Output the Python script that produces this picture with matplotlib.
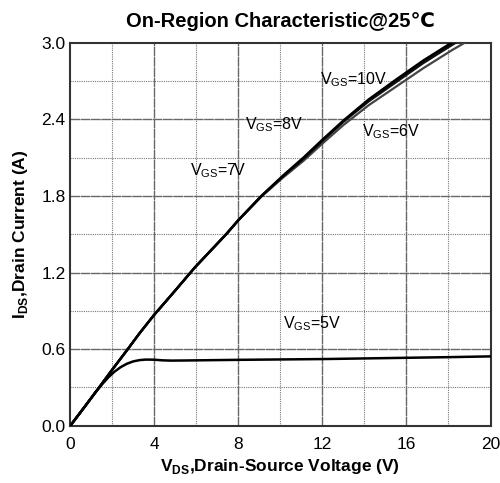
import matplotlib.pyplot as plt
import numpy as np

plt.rcParams['font.family'] = ['Liberation Sans', 'DejaVu Sans']
plt.rcParams['mathtext.fontset'] = 'custom'
plt.rcParams['mathtext.rm'] = 'Liberation Sans:bold'
plt.rcParams['mathtext.sf'] = 'Liberation Sans'

# curve data (VDS in V, IDS in A)
vds_main = [0, 0.7, 1.35, 2.0, 2.7, 3.3, 4.0, 5.0, 5.93, 7.42, 8.0, 9.1, 10.1, 11.1, 12.0, 13.0, 14.2, 15.5, 16.8, 18.2, 19.2, 20]
ids_10v = [0, 0.152, 0.295, 0.44, 0.592, 0.725, 0.87, 1.06, 1.24, 1.50, 1.61, 1.80, 1.955, 2.10, 2.24, 2.39, 2.555, 2.71, 2.86, 3.005, 3.105, 3.185]
ids_8v = [0, 0.152, 0.295, 0.44, 0.592, 0.725, 0.87, 1.06, 1.24, 1.50, 1.61, 1.80, 1.95, 2.095, 2.235, 2.385, 2.55, 2.70, 2.85, 2.995, 3.095, 3.175]
ids_7v = [0, 0.152, 0.295, 0.44, 0.592, 0.725, 0.87, 1.06, 1.24, 1.50, 1.61, 1.80, 1.95, 2.09, 2.23, 2.38, 2.54, 2.69, 2.84, 2.985, 3.085, 3.165]
ids_6v = [0, 0.152, 0.295, 0.44, 0.592, 0.725, 0.87, 1.06, 1.24, 1.50, 1.61, 1.795, 1.94, 2.075, 2.21, 2.355, 2.51, 2.655, 2.80, 2.945, 3.04, 3.12]

vds_5v = [0, 0.7, 1.2, 1.5, 1.8, 2.1, 2.4, 2.7, 3.0, 3.3, 3.6, 4.0, 4.4, 4.8, 5.5, 6.5, 8, 10, 12, 14, 16, 18, 20]
ids_5v = [0, 0.152, 0.262, 0.322, 0.377, 0.423, 0.459, 0.486, 0.504, 0.514, 0.518, 0.517, 0.512, 0.510, 0.511, 0.513, 0.516, 0.519, 0.522, 0.527, 0.532, 0.537, 0.543]

labels = ['10V', '8V', '6V', '7V', '5V']
label_pos = [(11.9, 2.71), (8.3, 2.36), (13.9, 2.30), (5.7, 2.0), (10.1, 0.8)]

x_major = np.arange(0, 21, 4)
x_minor = np.arange(2, 20, 4)
y_major = np.arange(0, 3.01, 0.6)
y_minor = np.arange(0.3, 3.0, 0.6)
y_ticklabels = ['0.0', '0.6', '1.2', '1.8', '2.4', '3.0']

fig = plt.figure(figsize=(5, 4.83), dpi=100)
ax = fig.add_axes([0.1406, 0.1186, 0.8404, 0.793])

ax.set_xlim(0, 20)
ax.set_ylim(0, 3.0)
ax.set_xticks(x_major)
ax.set_yticks(y_major)
ax.set_yticklabels(y_ticklabels)
ax.tick_params(direction='in', length=0, labelsize=12.5, labelcolor='black')
ax.tick_params(axis='x', pad=8)

# grid: (near) solid at major ticks, dotted half-way
major_style = (0, (7, 0.4))
for v in x_major[1:-1]:
    ax.axvline(v, color='#686868', linewidth=1.0, linestyle=major_style, zorder=1)
for v in x_minor:
    ax.axvline(v, color='#777777', linewidth=0.8, linestyle=(0, (1, 1)), zorder=1)
for v in y_major[1:-1]:
    ax.axhline(v, color='#686868', linewidth=1.0, linestyle=major_style, zorder=1)
for v in y_minor:
    ax.axhline(v, color='#777777', linewidth=0.8, linestyle=(0, (1, 1)), zorder=1)

for sp in ax.spines.values():
    sp.set_color('#333333')
    sp.set_linewidth(1.5)

ax.plot(vds_main, ids_6v, color='#444444', lw=1.6, zorder=3)
ax.plot(vds_main, ids_7v, color='#111111', lw=1.6, zorder=3)
ax.plot(vds_main, ids_8v, color='#111111', lw=1.6, zorder=3)
ax.plot(vds_main, ids_10v, color='#000000', lw=1.8, zorder=3)
ax.plot(vds_5v, ids_5v, color='#000000', lw=1.8, zorder=3)

for lab, (x, y) in zip(labels, label_pos):
    ax.text(x, y, r'V$_{\mathsf{GS}}$=' + lab, fontsize=11.5, va='center', ha='left', zorder=4)

ax.set_xlabel(r'V$_{\mathrm{DS}}$,Drain-Source Voltage (V)', fontsize=12.5, fontweight='bold', labelpad=4)
ax.set_ylabel(r'I$_{\mathrm{DS}}$,Drain Current (A)', fontsize=12.5, fontweight='bold', labelpad=8)
ax.set_title('On-Region Characteristic@25℃', fontsize=14.5, fontweight='bold', pad=11)

fig.savefig('out.png', dpi=100)
